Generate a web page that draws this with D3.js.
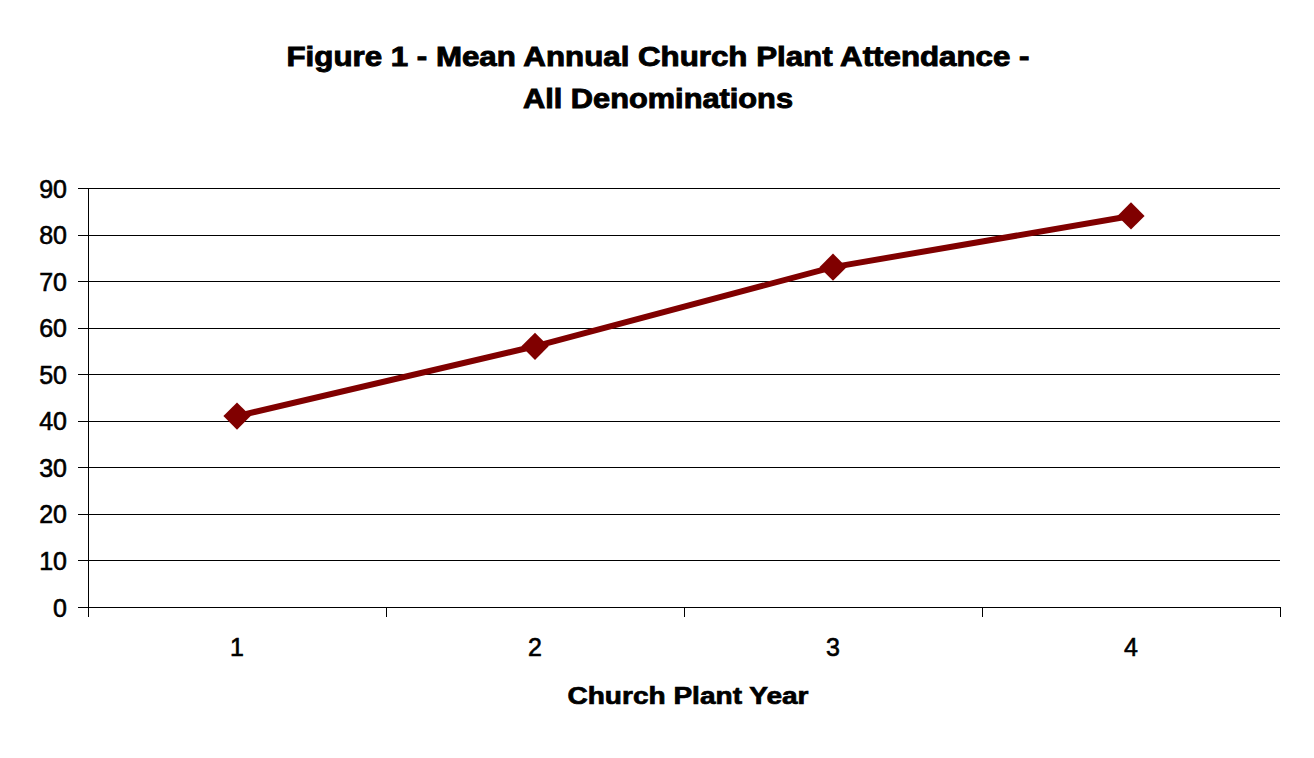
<!DOCTYPE html>
<html><head><meta charset="utf-8">
<script src="https://cdn.jsdelivr.net/npm/d3@7"></script>
<style>
html,body{margin:0;padding:0;background:#fff;}
svg{display:block;font-family:"Liberation Sans",Arial,sans-serif;}
</style></head>
<body>
<svg id="chart" width="1314" height="758"></svg>
<script>
const categories = ["1","2","3","4"];
const attendance = [41, 56, 73, 84];
const yTicks = [0,10,20,30,40,50,60,70,80,90];
const titleLines = ["Figure 1 - Mean Annual Church Plant Attendance -","All Denominations"];
const xTitle = "Church Plant Year";

(function(){
const svg = d3.select("#chart");
const mLeft = 88, mRight = 1280, mTop = 188, mBottom = 607;

const x = d3.scaleBand().domain(categories).range([mLeft, mRight]).padding(0);
const xb = d3.scaleLinear().domain([0, categories.length]).range([mLeft, mRight]);
const y = d3.scaleLinear().domain([0, 90]).range([mBottom, mTop]);

// gridlines
svg.append("g").attr("transform", `translate(${mLeft},0)`)
  .call(d3.axisLeft(y).tickValues(yTicks).tickSize(-(mRight-mLeft)).tickFormat(""))
  .call(g => g.select(".domain").remove())
  .call(g => g.selectAll("line").attr("stroke","#000").attr("stroke-width",1).attr("shape-rendering","crispEdges"));

// y axis with ticks & labels
svg.append("g").attr("transform", `translate(${mLeft},0)`)
  .call(d3.axisLeft(y).tickValues(yTicks).tickSize(10).tickSizeOuter(0).tickPadding(11))
  .call(g => g.select(".domain").remove())
  .call(g => g.selectAll("line").attr("stroke","#000").attr("stroke-width",1).attr("shape-rendering","crispEdges"))
  .call(g => g.selectAll("text").attr("font-size",25).attr("stroke","#000").attr("stroke-width",0.6).attr("fill","#000").attr("dy","0.36em"));

// vertical axis line extending below zero
svg.append("line").attr("x1",mLeft).attr("x2",mLeft).attr("y1",mTop).attr("y2",mBottom+10)
  .attr("stroke","#000").attr("stroke-width",1).attr("shape-rendering","crispEdges");

// x boundary ticks
svg.append("g").attr("transform", `translate(0,${mBottom})`)
  .call(d3.axisBottom(xb).tickValues(d3.range(0, categories.length+1)).tickSize(10).tickSizeOuter(0).tickFormat(""))
  .call(g => g.select(".domain").attr("stroke","#000").attr("stroke-width",1).attr("shape-rendering","crispEdges"))
  .call(g => g.selectAll("line").attr("stroke","#000").attr("stroke-width",1).attr("shape-rendering","crispEdges"));

// x labels
svg.append("g").attr("transform", `translate(0,${mBottom})`)
  .call(d3.axisBottom(x).tickSize(0).tickPadding(31))
  .call(g => g.select(".domain").remove())
  .call(g => g.selectAll("text").attr("font-size",25).attr("stroke","#000").attr("stroke-width",0.6).attr("fill","#000"));

// line
const line = d3.line().x((d,i)=>x(categories[i])+x.bandwidth()/2).y(d=>y(d));
svg.append("path").datum(attendance).attr("d", line)
  .attr("fill","none").attr("stroke","#800000").attr("stroke-width",6).attr("stroke-linejoin","round");

// markers
const sym = d3.symbol().type(d3.symbolSquare).size(370);
svg.append("g").selectAll("path").data(attendance).join("path")
  .attr("d", sym)
  .attr("transform",(d,i)=>`translate(${x(categories[i])+x.bandwidth()/2},${y(d)}) rotate(45)`)
  .attr("fill","#800000");

// title
svg.append("g").selectAll("text").data(titleLines).join("text")
  .attr("x",658).attr("y",(d,i)=>66+i*42)
  .attr("text-anchor","middle").attr("font-size",27).attr("font-weight","bold")
  .attr("stroke","#000").attr("stroke-width",0.9)
  .attr("fill","#000").text(d=>d)
  .each(function(d,i){ d3.select(this).attr("textLength", i===0 ? 743 : 270).attr("lengthAdjust","spacingAndGlyphs"); });

// x axis title
svg.append("text").attr("x",688).attr("y",704).attr("text-anchor","middle")
  .attr("font-size",24).attr("font-weight","bold").attr("stroke","#000").attr("stroke-width",0.7)
  .attr("textLength",241).attr("lengthAdjust","spacingAndGlyphs")
  .attr("fill","#000").text(xTitle);
})();
</script>
</body></html>
